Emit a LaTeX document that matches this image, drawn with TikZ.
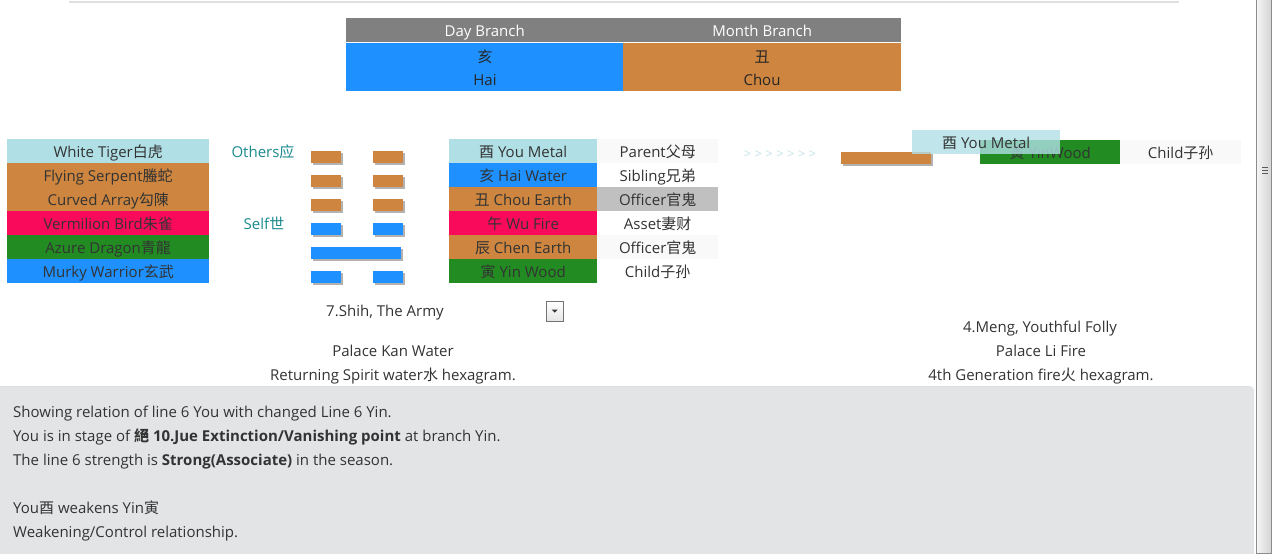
\documentclass[tikz,border=0pt]{standalone}
\usepackage{fontspec}
\setmainfont{Open Sans}
\newfontfamily\cjk{Noto Sans CJK SC}
\newcommand\zh[1]{{\cjk #1}}
\usetikzlibrary{shadows}
\definecolor{pb}{HTML}{B0E0E6}
\definecolor{peru}{HTML}{CD853F}
\definecolor{vred}{HTML}{FA0A5A}
\definecolor{fg}{HTML}{228B22}
\definecolor{db}{HTML}{1E90FF}
\definecolor{hdr}{HTML}{808080}
\definecolor{txt}{HTML}{333333}
\definecolor{panel}{HTML}{E2E4E6}
\definecolor{tealt}{HTML}{1A8A8E}
\definecolor{silv}{HTML}{C0C0C0}
\definecolor{faint}{HTML}{F9F9F9}
\definecolor{arrowc}{HTML}{C6E3E8}
\newcommand\fs{\fontsize{15}{18}\selectfont}
\tikzset{
 cell/.style={anchor=north west, inner sep=0pt, minimum height=24pt, text=txt, font=\fs,
   text height=13.5pt, text depth=1.5pt},
 lbl/.style={inner sep=0pt, text=txt, font=\fs, text height=12pt, text depth=2pt},
 para/.style={anchor=west, inner sep=0pt, text=txt, font=\fs, text height=11pt, text depth=0pt},
 bar/.style={anchor=north west, inner sep=0pt, minimum height=12pt,
   drop shadow={shadow xshift=1.5pt, shadow yshift=-2pt, opacity=0.3, fill=black}},
 seg/.style={bar, minimum width=30pt},
 full/.style={bar, minimum width=90pt},
}
\begin{document}
\begin{tikzpicture}[x=1pt,y=-1pt]
\useasboundingbox (0,0) rectangle (1272,554);
% top rule
\draw[draw=black!12, line width=1.5pt] (69,2) -- (1179,2);
% branch table
\node[cell, fill=hdr, minimum width=277pt, text=white] (dh) at (346,18) {Day Branch};
\node[cell, fill=hdr, minimum width=278pt, text=white] (mh) at (623,18) {Month Branch};
\node[cell, fill=db, minimum width=277pt, minimum height=48pt] (dv) at (346,43) {};
\node[cell, fill=peru, minimum width=278pt, minimum height=48pt] (mv) at (623,43) {};
\node[lbl, text=black!85] (dvc) at (485,57) {\zh{亥}};
\node[lbl, text=black!85] (dvl) at (485,80) {Hai};
\node[lbl, text=black!85] (mvc) at (762,57) {\zh{丑}};
\node[lbl, text=black!85] (mvl) at (762,80) {Chou};
% six spirits
\node[cell, fill=pb, minimum width=202pt] (s1) at (7,139) {White Tiger\zh{白虎}};
\node[cell, fill=peru, minimum width=202pt] (s2) at (7,163) {Flying Serpent\zh{螣蛇}};
\node[cell, fill=peru, minimum width=202pt] (s3) at (7,187) {Curved Array\zh{勾陳}};
\node[cell, fill=vred, minimum width=202pt] (s4) at (7,211) {Vermilion Bird\zh{朱雀}};
\node[cell, fill=fg, minimum width=202pt] (s5) at (7,235) {Azure Dragon\zh{青龍}};
\node[cell, fill=db, minimum width=202pt] (s6) at (7,259) {Murky Warrior\zh{玄武}};
\node[lbl, text=tealt] (oth) at (263,152) {Others\zh{应}};
\node[lbl, text=tealt] (slf) at (264,224) {Self\zh{世}};
% hexagram lines
\node[seg, fill=peru] (b1a) at (311,151) {};
\node[seg, fill=peru] (b1b) at (373,151) {};
\node[seg, fill=peru] (b2a) at (311,175) {};
\node[seg, fill=peru] (b2b) at (373,175) {};
\node[seg, fill=peru] (b3a) at (311,199) {};
\node[seg, fill=peru] (b3b) at (373,199) {};
\node[seg, fill=db] (b4a) at (311,223) {};
\node[seg, fill=db] (b4b) at (373,223) {};
\node[full, fill=db] (b5) at (311,247) {};
\node[seg, fill=db] (b6a) at (311,271) {};
\node[seg, fill=db] (b6b) at (373,271) {};
% branches
\node[cell, fill=pb, minimum width=148pt] (r1) at (449,139) {\zh{酉} You Metal};
\node[cell, fill=db, minimum width=148pt] (r2) at (449,163) {\zh{亥} Hai Water};
\node[cell, fill=peru, minimum width=148pt] (r3) at (449,187) {\zh{丑} Chou Earth};
\node[cell, fill=vred, minimum width=148pt] (r4) at (449,211) {\zh{午} Wu Fire};
\node[cell, fill=peru, minimum width=148pt] (r5) at (449,235) {\zh{辰} Chen Earth};
\node[cell, fill=fg, minimum width=148pt] (r6) at (449,259) {\zh{寅} Yin Wood};
% relations
\node[cell, fill=faint, minimum width=121pt] (p1) at (597,139) {Parent\zh{父母}};
\node[cell, fill=white, minimum width=121pt] (p2) at (597,163) {Sibling\zh{兄弟}};
\node[cell, fill=silv, minimum width=121pt] (p3) at (597,187) {Officer\zh{官鬼}};
\node[cell, fill=white, minimum width=121pt] (p4) at (597,211) {Asset\zh{妻财}};
\node[cell, fill=faint, minimum width=121pt] (p5) at (597,235) {Officer\zh{官鬼}};
\node[cell, fill=white, minimum width=121pt] (p6) at (597,259) {Child\zh{子孙}};
% changed line area
\node[lbl, text=arrowc, font=\fontsize{13}{15}\selectfont] (arr) at (780,153) {> > > > > > >};
\node[bar, fill=peru, minimum width=90pt] (cb) at (841,152) {};
\node[cell, fill=fg, minimum width=140pt] (cg) at (980,140) {\zh{寅} YinWood};
\node[cell, fill=faint, minimum width=121pt] (cc) at (1120,140) {Child\zh{子孙}};
\node[cell, fill=pb, fill opacity=0.8, text opacity=1, minimum width=148pt] (cy) at (912,130) {\zh{酉} You Metal};
% hexagram names
\node[lbl] (hn) at (385,311) {7.Shih, The Army};
\node[anchor=north west, minimum width=17pt, minimum height=20pt, inner sep=0pt, draw=black!55, top color=white, bottom color=black!10] (dd) at (546,301) {};
\fill[black!80] ([xshift=-3pt,yshift=1.5pt]dd.center) -- ([xshift=3pt,yshift=1.5pt]dd.center) -- ([yshift=-1.5pt]dd.center) -- cycle;
\node[lbl] (pk) at (393,351) {Palace Kan Water};
\node[lbl] (rs) at (393,375) {Returning Spirit water\zh{水} hexagram.};
\node[lbl] (mn) at (1040,327) {4.Meng, Youthful Folly};
\node[lbl] (pl) at (1041,351) {Palace Li Fire};
\node[lbl] (fg4) at (1041,375) {4th Generation fire\zh{火} hexagram.};
% bottom panel
\fill[panel, rounded corners=4pt] (-6,386) rectangle (1254,562);
\draw[black!12] (0,386.5) -- (1250,386.5);
\node[para] (t1) at (13,412) {Showing relation of line 6 You with changed Line 6 Yin.};
\node[para] (t2) at (13,436) {You is in stage of \zh{\bfseries 絕} \textbf{10.Jue Extinction/Vanishing point} at branch Yin.};
\node[para] (t3) at (13,460) {The line 6 strength is \textbf{Strong(Associate)} in the season.};
\node[para] (t4) at (13,508) {You\zh{酉} weakens Yin\zh{寅}};
\node[para] (t5) at (13,532) {Weakening/Control relationship.};
% scrollbar
\shade[left color=black!4, right color=black!17] (1256.5,0) rectangle (1271.5,553);
\draw[black!45] (1256.5,0) -- (1256.5,553) -- (1271.5,553) -- (1271.5,0);
\draw[black!65, line width=0.8pt] (1262,167) -- (1268,167) (1262,170) -- (1268,170) (1262,173) -- (1268,173);
\end{tikzpicture}
\end{document}
